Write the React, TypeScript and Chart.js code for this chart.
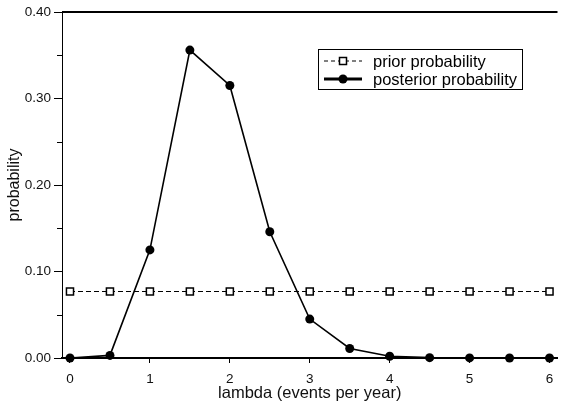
import { useEffect, useRef } from 'react';
import { Chart, registerables } from 'chart.js';

Chart.register(...registerables);

// Rate values (events per year) at which both distributions are evaluated
const lambdaValues = [0, 0.5, 1, 1.5, 2, 2.5, 3, 3.5, 4, 4.5, 5, 5.5, 6];
// Uniform prior over the 13 rate values
const priorProbability = [
  0.0769, 0.0769, 0.0769, 0.0769, 0.0769, 0.0769, 0.0769, 0.0769, 0.0769, 0.0769, 0.0769, 0.0769, 0.0769,
];
const posteriorProbability = [0, 0.003, 0.125, 0.356, 0.315, 0.146, 0.045, 0.011, 0.002, 0.0004, 0.0001, 0, 0];

const seriesLabels = ['prior probability', 'posterior probability'];
const xTickValues = [0, 1, 2, 3, 4, 5, 6];
const yTickValues = [0, 0.05, 0.1, 0.15, 0.2, 0.25, 0.3, 0.35, 0.4];
const xAxisTitle = 'lambda (events per year)';
const yAxisTitle = 'probability';

const FONT = '"Liberation Sans", Arial, sans-serif';

const isMajorY = (v: number) => Math.abs(Math.round(v * 10) - v * 10) < 1e-6;

// Top frame line and the short minor ticks on the y axis
const framePlugin = {
  id: 'frameLines',
  afterDraw(chart: any) {
    const { ctx, chartArea } = chart;
    const yScale = chart.scales.y;
    ctx.save();
    ctx.strokeStyle = '#000';
    ctx.lineWidth = 2;
    ctx.beginPath();
    ctx.moveTo(chartArea.left, chartArea.top);
    ctx.lineTo(chartArea.right, chartArea.top);
    ctx.stroke();
    ctx.lineWidth = 1;
    yTickValues.forEach((v) => {
      if (isMajorY(v)) return;
      const py = Math.round(yScale.getPixelForValue(v)) + 0.5;
      ctx.beginPath();
      ctx.moveTo(chartArea.left - 5, py);
      ctx.lineTo(chartArea.left, py);
      ctx.stroke();
    });
    ctx.restore();
  },
};

// Boxed legend with line + marker samples
const legendPlugin = {
  id: 'boxedLegend',
  afterDraw(chart: any) {
    const { ctx } = chart;
    const x0 = 318;
    const y0 = 49;
    const w = 204;
    const h = 40;
    ctx.save();
    ctx.fillStyle = '#fff';
    ctx.fillRect(x0, y0, w, h);
    ctx.strokeStyle = '#000';
    ctx.lineWidth = 1;
    ctx.strokeRect(x0 + 0.5, y0 + 0.5, w, h);

    const sx0 = 324;
    const sx1 = 362;
    const mx = 343;
    chart.data.datasets.forEach((ds: any, i: number) => {
      const cy = y0 + 12 + i * 18;
      ctx.strokeStyle = '#000';
      if (i === 0) {
        ctx.lineWidth = 1;
        ctx.setLineDash([4, 3]);
      } else {
        ctx.lineWidth = 3;
        ctx.setLineDash([]);
      }
      ctx.beginPath();
      ctx.moveTo(sx0, cy);
      ctx.lineTo(sx1, cy);
      ctx.stroke();
      ctx.setLineDash([]);
      if (ds.pointStyle === 'rect') {
        ctx.fillStyle = '#fff';
        ctx.lineWidth = 1.5;
        ctx.fillRect(mx - 3.5, cy - 3.5, 7, 7);
        ctx.strokeRect(mx - 3.5, cy - 3.5, 7, 7);
      } else {
        ctx.fillStyle = '#000';
        ctx.beginPath();
        ctx.arc(mx, cy, 4.5, 0, Math.PI * 2);
        ctx.fill();
      }
      ctx.fillStyle = '#000';
      ctx.font = `16.5px ${FONT}`;
      ctx.textAlign = 'left';
      ctx.textBaseline = 'middle';
      ctx.fillText(ds.label, 373, cy + 1);
    });
    ctx.restore();
  },
};

export default function App() {
  const canvasRef = useRef<HTMLCanvasElement | null>(null);

  useEffect(() => {
    const canvas = canvasRef.current;
    if (!canvas) return;
    const chart = new Chart(canvas, {
      type: 'line',
      data: {
        datasets: [
          {
            label: seriesLabels[0],
            data: lambdaValues.map((x, i) => ({ x, y: priorProbability[i] })),
            borderColor: '#000',
            borderWidth: 1.2,
            borderDash: [5, 3],
            pointStyle: 'rect',
            pointRadius: 5,
            pointBorderWidth: 1.5,
            pointBorderColor: '#000',
            pointBackgroundColor: '#fff',
            tension: 0,
            clip: false,
          },
          {
            label: seriesLabels[1],
            data: lambdaValues.map((x, i) => ({ x, y: posteriorProbability[i] })),
            borderColor: '#000',
            borderWidth: 1.6,
            pointStyle: 'circle',
            pointRadius: 4.5,
            pointBorderWidth: 0,
            pointBackgroundColor: '#000',
            tension: 0,
            clip: false,
          },
        ],
      },
      options: {
        animation: false,
        responsive: false,
        layout: { padding: { top: 12, right: 0, left: 0, bottom: 0 } },
        plugins: {
          legend: { display: false },
          tooltip: { enabled: false },
        },
        scales: {
          x: {
            type: 'linear',
            min: -0.1,
            max: 6.1,
            afterBuildTicks: (scale: any) => {
              scale.ticks = xTickValues.map((value) => ({ value }));
            },
            afterFit: (scale: any) => {
              scale.height = 46;
              scale.paddingLeft = 0;
              scale.paddingRight = 0;
            },
            ticks: {
              color: '#111',
              font: { family: FONT, size: 13.5 },
              padding: 8,
              maxRotation: 0,
              autoSkip: false,
              callback: (v: any) => String(v),
            },
            grid: {
              drawOnChartArea: false,
              drawTicks: true,
              tickLength: 5,
              tickColor: '#000',
              tickWidth: 1,
            },
            border: { display: true, color: '#000', width: 2 },
            title: {
              display: true,
              text: xAxisTitle,
              color: '#111',
              font: { family: FONT, size: 16.5 },
              padding: { top: 1, bottom: 1 },
            },
          },
          y: {
            type: 'linear',
            min: 0,
            max: 0.4,
            afterBuildTicks: (scale: any) => {
              scale.ticks = yTickValues.map((value) => ({ value }));
            },
            afterFit: (scale: any) => {
              scale.width = 62;
              scale.paddingTop = 0;
              scale.paddingBottom = 0;
            },
            ticks: {
              color: '#111',
              font: { family: FONT, size: 13.5 },
              padding: 3,
              autoSkip: false,
              callback: (v: any) => (isMajorY(Number(v)) ? Number(v).toFixed(2) : ''),
            },
            grid: {
              drawOnChartArea: false,
              drawTicks: true,
              tickLength: 8,
              tickWidth: 1,
              tickColor: (c: any) => (c.tick && isMajorY(c.tick.value) ? '#000' : 'rgba(0,0,0,0)'),
            },
            border: { display: true, color: '#000', width: 1 },
            title: {
              display: true,
              text: yAxisTitle,
              color: '#111',
              font: { family: FONT, size: 16 },
              padding: { top: 5, bottom: 5 },
            },
          },
        },
      },
      plugins: [framePlugin, legendPlugin],
    });
    return () => chart.destroy();
  }, []);

  return (
    <div style={{ position: 'absolute', left: 0, top: 0, width: 564, height: 404, background: '#fff' }}>
      <canvas ref={canvasRef} width={564} height={404} />
    </div>
  );
}
